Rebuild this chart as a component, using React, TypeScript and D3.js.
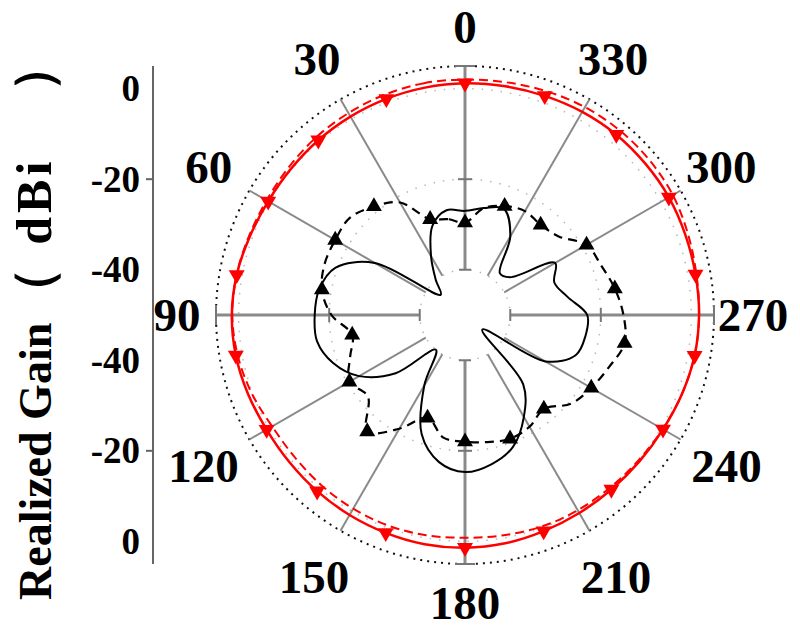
import React, { useEffect, useRef } from 'react';
import * as d3 from 'd3';

// azimuth angles (deg), sampled every 10 degrees
const angles = [0, 10, 20, 30, 40, 50, 60, 70, 80, 90, 100, 110, 120, 130, 140, 150, 160, 170,
  180, 190, 200, 210, 220, 230, 240, 250, 260, 270, 280, 290, 300, 310, 320, 330, 340, 350];

// realized gain (dBi)
const redSolid = [1.2, 1.0, 0.8, 0.6, 0.4, 0.2, 0.2, 0.6, 1.2, 1.5, 1.4, 1.0, 0.6, 0.6, 0.8, 1.0, 1.2, 1.4,
  1.4, 1.2, 0.8, 0.5, 0.3, 0.3, 0.5, 1.0, 1.5, 1.7, 1.7, 1.8, 2.0, 2.0, 2.0, 1.8, 1.5, 1.3];
const redDashed = [2.0, 2.0, 1.8, 1.5, 1.2, 0.8, 0.6, 0.8, 1.2, 1.4, 1.0, 0.2, -0.8, -1.0, -0.8, -0.6, -0.5, -0.6,
  -0.8, -0.6, -0.3, -0.2, -0.2, 0.0, 0.4, 1.0, 1.5, 1.7, 1.9, 2.4, 3.0, 3.2, 3.2, 3.0, 2.6, 2.2];
const blackSolid = [-27, -26.5, -29, -35, -40, -43, -27, -19.5, -17.3, -16.8, -16.8, -19, -23, -30, -40, -32, -22, -17,
  -15.3, -16.5, -19, -24, -30, -45, -29.5, -24, -23, -23, -27, -29, -27, -37, -38, -30, -25, -26];
const blackDashed = [-29.6, -28.5, -27.5, -21.3, -18.7, -16.7, -16.9, -17, -17.9, -20.5, -24.7, -23, -20.5, -22, -16.4, -21, -25.8, -22.5,
  -22, -21.5, -20.9, -21.5, -22.9, -19.5, -17.8, -16.2, -14.2, -15, -16.4, -18, -19, -23, -24, -23.5, -24.4, -26];

const angleTicks = [0, 30, 60, 90, 120, 150, 180, 210, 240, 270, 300, 330];
const radialLabels = [0, -20, -40];

const App: React.FC = () => {
  const svgRef = useRef<SVGSVGElement>(null);

  useEffect(() => {
    if (!svgRef.current) return;
    const svg = d3.select(svgRef.current);
    svg.selectAll('*').remove();

    const cx = 465, cy = 315;
    const font = "'Liberation Serif', 'Times New Roman', serif";
    const r = d3.scaleLinear().domain([-50, 5]).range([0, 249]);
    const toRad = (deg: number) => deg * Math.PI / 180;
    // angles run counter-clockwise from the top
    const pt = (deg: number, rr: number) => [cx - rr * Math.sin(toRad(deg)), cy - rr * Math.cos(toRad(deg))];

    const g = svg.append('g');

    // grid circles
    g.selectAll('circle.grid')
      .data([-40, -20, 0])
      .join('circle')
      .attr('cx', cx).attr('cy', cy)
      .attr('r', d => r(d))
      .attr('fill', 'none')
      .attr('stroke', '#b8b8b8')
      .attr('stroke-width', 1.5)
      .attr('stroke-dasharray', '1.5 8');

    g.append('circle')
      .attr('cx', cx).attr('cy', cy).attr('r', r(5))
      .attr('fill', 'none')
      .attr('stroke', '#111')
      .attr('stroke-width', 2)
      .attr('stroke-dasharray', '2 5');

    // spokes
    g.selectAll('line.spoke')
      .data(angleTicks)
      .join('line')
      .attr('x1', d => pt(d, r(-40))[0]).attr('y1', d => pt(d, r(-40))[1])
      .attr('x2', d => pt(d, r(5))[0]).attr('y2', d => pt(d, r(5))[1])
      .attr('stroke', '#8a8a8a')
      .attr('stroke-width', d => d % 90 === 0 ? 3 : 2);

    // cross ticks on the main spokes
    const cross: [number, number, number][] = [];
    [0, 90, 180, 270].forEach(a => {
      cross.push([a, r(-40), 6]);
      cross.push([a, r(-20), 7]);
      cross.push([a, r(5), 10]);
    });
    g.selectAll('line.cross')
      .data(cross)
      .join('line')
      .each(function ([a, rr, h]) {
        const [x, y] = pt(a, rr);
        const nx = Math.cos(toRad(a)), ny = -Math.sin(toRad(a));
        d3.select(this)
          .attr('x1', x - nx * h).attr('y1', y - ny * h)
          .attr('x2', x + nx * h).attr('y2', y + ny * h);
      })
      .attr('stroke', '#777')
      .attr('stroke-width', 2);

    // angle labels
    const labelR = (d: number) => d % 90 === 0 ? 288 : (d < 90 || d > 270 ? 296 : 302);
    g.selectAll('text.ang')
      .data(angleTicks)
      .join('text')
      .attr('x', d => pt(d, labelR(d))[0])
      .attr('y', d => pt(d, labelR(d))[1])
      .attr('text-anchor', 'middle')
      .attr('dominant-baseline', 'central')
      .style('font-family', font)
      .style('font-weight', 'bold')
      .style('font-size', '47px')
      .text(d => d);

    // radial axis on the left
    const ax = 153;
    g.append('line')
      .attr('x1', ax).attr('x2', ax)
      .attr('y1', cy - r(5)).attr('y2', cy + r(5))
      .attr('stroke', '#666').attr('stroke-width', 2);
    g.selectAll('line.rtick')
      .data([-1, 1])
      .join('line')
      .attr('x1', ax - 7).attr('x2', ax)
      .attr('y1', s => cy + s * r(-20)).attr('y2', s => cy + s * r(-20))
      .attr('stroke', '#666').attr('stroke-width', 2);
    const rl = radialLabels.flatMap(v => [{ v, s: -1 }, { v, s: 1 }]);
    g.selectAll('text.rl')
      .data(rl)
      .join('text')
      .attr('x', 140)
      .attr('y', d => cy + d.s * r(d.v))
      .attr('text-anchor', 'end')
      .attr('dominant-baseline', 'central')
      .style('font-family', font)
      .style('font-weight', 'bold')
      .style('font-size', '37px')
      .text(d => d.v);

    // title
    const title = g.append('text')
      .attr('transform', `translate(51,600) rotate(-90)`)
      .style('font-family', font)
      .style('font-weight', 'bold')
      .style('font-size', '46px');
    title.append('tspan').text('Realized Gain');
    title.append('tspan').attr('dx', 4).style('font-size', '52px').text('（');
    title.append('tspan').attr('dx', 22).style('font-size', '50px').style('letter-spacing', '4px').text('dBi');
    title.append('tspan').attr('dx', 66).style('font-size', '52px').text('）');

    // curves
    const line = d3.lineRadial<number>()
      .angle((_, i) => -toRad(angles[i]))
      .radius(v => r(Math.max(-50, v)))
      .curve(d3.curveCatmullRomClosed);

    const plot = g.append('g').attr('transform', `translate(${cx},${cy})`);
    const series = [
      { data: blackSolid, color: '#000', dash: null, w: 2 },
      { data: blackDashed, color: '#000', dash: '9 6', w: 2.2 },
      { data: redDashed, color: '#ff0000', dash: '9 5', w: 2 },
      { data: redSolid, color: '#ff0000', dash: null, w: 2.5 },
    ];
    plot.selectAll('path.curve')
      .data(series)
      .join('path')
      .attr('d', d => line(d.data))
      .attr('fill', 'none')
      .attr('stroke', d => d.color)
      .attr('stroke-width', d => d.w)
      .attr('stroke-dasharray', d => d.dash);

    const tri = d3.symbol().type(d3.symbolTriangle).size(110);
    const marks = (vals: number[], color: string, down: boolean) => {
      const pts = angles.map((a, i) => ({ a, v: vals[i] })).filter(d => d.a % 20 === 0);
      g.append('g').selectAll('path')
        .data(pts)
        .join('path')
        .attr('d', tri()!)
        .attr('transform', d => {
          const [x, y] = pt(d.a, r(d.v));
          return `translate(${x},${y})${down ? ' rotate(180)' : ''}`;
        })
        .attr('fill', color);
    };
    marks(blackDashed, '#000', false);
    marks(redSolid, '#ff0000', true);
  }, []);

  return (
    <svg ref={svgRef} width={800} height={630}
      style={{ position: 'absolute', left: 0, top: 0, background: '#fff' }} />
  );
};

export default App;
